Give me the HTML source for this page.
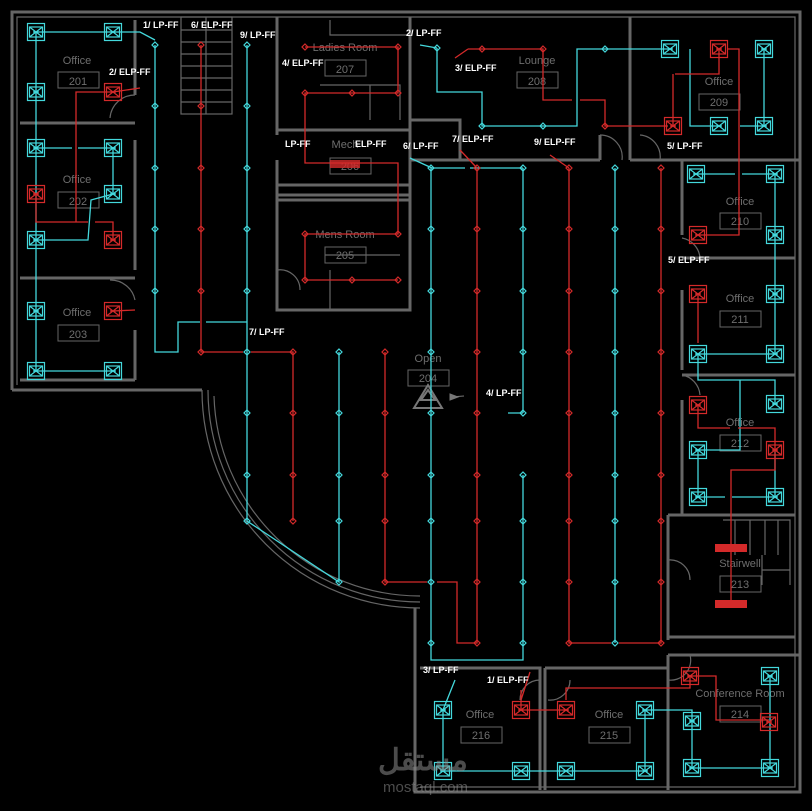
<!DOCTYPE html>
<html><head><meta charset="utf-8"><style>
html,body{margin:0;padding:0;background:#000;}
svg{display:block}
.w{stroke:#666;stroke-width:3;fill:none}
.t{stroke:#666;stroke-width:1.2;fill:none}
.c{stroke:#44d8dc;stroke-width:1.3;fill:none}
.r{stroke:#d42a2a;stroke-width:1.3;fill:none}
.lb{font-family:"Liberation Sans",sans-serif;font-size:9px;font-weight:bold;fill:#fff}
.rn{font-family:"Liberation Sans",sans-serif;font-size:11px;fill:#6e6e6e}
.bx{stroke:#666;stroke-width:1;fill:none}
</style></head><body>
<svg width="812" height="811" viewBox="0 0 812 811" xmlns="http://www.w3.org/2000/svg">
<defs>
<symbol id="fx" overflow="visible"><g fill="none" stroke="currentColor" stroke-width="1.2">
<rect x="-8.5" y="-8.5" width="17" height="17"/><rect x="-6.5" y="-5" width="13" height="10"/>
<path d="M-6.5 -5L6.5 5M-6.5 5L6.5 -5M-3 0h6"/></g></symbol>
<symbol id="nd" overflow="visible"><path d="M0 -3L3 0L0 3L-3 0Z" fill="none" stroke="currentColor" stroke-width="1.2"/></symbol>
</defs>
<rect width="812" height="811" fill="#000"/>
<!-- outer walls -->
<path class="w" d="M12 390 V12 H800 V792 H415 V608"/>
<path class="t" d="M17 385 V17 H795 V787 H420"/>
<path class="w" d="M12 390 H202"/>
<path class="t" d="M202 390 A218 218 0 0 0 420 608"/>
<path class="t" d="M208 390 A212 212 0 0 0 420 602"/>
<path class="t" d="M214 396 A206 206 0 0 0 420 596"/>
<!-- left offices -->
<path class="w" d="M135 20 V95 M135 140 V270 M135 330 V380 M20 123 H135 M20 278 H135 M20 380 H135"/>
<path class="t" d="M110 118 A25 25 0 0 1 135 95 M110 280 A25 25 0 0 1 135 300"/>
<!-- stair -->
<rect class="t" x="181" y="17" width="51" height="97"/>
<path class="t" d="M181 30 H232 M181 42 H232 M181 54 H232 M181 66 H232 M181 78 H232 M181 90 H232 M181 102 H232 M206 17 V114"/>
<!-- center block -->
<path class="w" d="M277 17 V135 M277 160 V310 H410 V17 M277 130 H410 M277 185 H410 M277 195 H410 M277 200 H410"/>
<path class="t" d="M330 20 V35 H410 M320 85 H400 V120 M370 85 V120 M325 255 H400 M330 270 V310 M300 290 A20 20 0 0 0 277 270"/>
<!-- lounge / 209 -->
<path class="w" d="M410 160 H600 M630 160 H800 M630 17 V160 M600 135 V160 M410 120 H460 V160"/>
<path class="t" d="M600 135 A22 22 0 0 1 622 160 M640 135 A22 22 0 0 1 660 160"/>
<!-- right rooms -->
<path class="w" d="M682 160 V235 M682 290 V370 M682 400 V515 M682 258 H795 M682 375 H795 M668 515 H795 M668 515 V640 M668 637 H795 M668 655 V790 M668 655 H800"/>
<path class="t" d="M682 238 A22 22 0 0 1 700 258 M682 375 A22 22 0 0 1 700 395 M668 560 A20 20 0 0 1 690 580 M668 680 A20 20 0 0 0 690 655"/>
<path class="t" d="M723 520 H790 V585 M735 520 V555 M750 520 V555 M765 520 V555 M778 520 V555 M762 555 V585 M790 570 H762"/>
<!-- bottom rooms -->
<path class="w" d="M420 668 H540 V790 M545 668 H668 M545 668 V790 M540 668 V700"/>
<path class="t" d="M520 700 A20 20 0 0 1 540 680 M548 700 A20 20 0 0 0 570 680"/>
<!-- room names -->
<g class="rn" text-anchor="middle">
<text x="77" y="64">Office</text><rect class="bx" x="58" y="72" width="41" height="16"/><text x="78" y="85">201</text>
<text x="77" y="183">Office</text><rect class="bx" x="58" y="192" width="41" height="16"/><text x="78" y="205">202</text>
<text x="77" y="316">Office</text><rect class="bx" x="58" y="325" width="41" height="16"/><text x="78" y="338">203</text>
<text x="345" y="51">Ladies Room</text><rect class="bx" x="325" y="60" width="41" height="16"/><text x="345" y="73">207</text>
<text x="345" y="148">Mech</text><rect class="bx" x="330" y="158" width="41" height="16"/><text x="350" y="170">206</text>
<text x="345" y="238">Mens Room</text><rect class="bx" x="325" y="247" width="41" height="16"/><text x="345" y="259">205</text>
<text x="537" y="64">Lounge</text><rect class="bx" x="517" y="72" width="41" height="16"/><text x="537" y="85">208</text>
<text x="719" y="85">Office</text><rect class="bx" x="699" y="94" width="41" height="16"/><text x="719" y="106">209</text>
<text x="740" y="205">Office</text><rect class="bx" x="720" y="213" width="41" height="16"/><text x="740" y="225">210</text>
<text x="740" y="302">Office</text><rect class="bx" x="720" y="311" width="41" height="16"/><text x="740" y="323">211</text>
<text x="740" y="426">Office</text><rect class="bx" x="720" y="435" width="41" height="16"/><text x="740" y="447">212</text>
<text x="740" y="567">Stairwell</text><rect class="bx" x="720" y="576" width="41" height="16"/><text x="740" y="588">213</text>
<text x="740" y="697">Conference Room</text><rect class="bx" x="720" y="706" width="41" height="16"/><text x="740" y="718">214</text>
<text x="480" y="718">Office</text><rect class="bx" x="461" y="727" width="41" height="16"/><text x="481" y="739">216</text>
<text x="609" y="718">Office</text><rect class="bx" x="589" y="727" width="41" height="16"/><text x="609" y="739">215</text>
<text x="428" y="362">Open</text><rect class="bx" x="408" y="370" width="41" height="16"/><text x="428" y="382">204</text>
</g>
<path d="M428 385 L414 408 H442 Z M421 400 L428 390 L435 400Z" fill="none" stroke="#777" stroke-width="2"/>
<path d="M450 397 L464 396 M450 394 V400 L458 397Z" stroke="#777" fill="#777"/>
<!-- cyan circuits -->
<g class="c">
<path d="M155 45 V352 H178 V322 H200 M206 322 H247"/>
<path d="M247 45 V521 L339 582 V352"/>
<path d="M431 168 V643 V660 H523 V475 M523 413 V168 M523 413 H508"/>
<path d="M615 168 V643"/>
<path d="M431 168 H465 M470 168 H523 M432 168 L410 158"/>
<path d="M36 32 V371 H113 M36 32 H113 M113 32 H140 L155 40"/>
<path d="M36 148 H72 M78 148 H113 V194 M36 240 H88 L91 200 L113 194"/>
<path d="M437 48 V92 H482 V126 H577 V49 H670 M437 48 L420 45"/>
<path d="M690 49 V126 H719 M740 126 H764 V49"/>
<path d="M696 174 H735 M742 174 H775 V354 H698 M775 235 V354"/>
<path d="M698 354 V380 H775 V404 M775 450 V497 M698 450 V497 H725 M732 497 H775 M698 450 H740 V380"/>
<path d="M692 721 V768 H770 V676 M645 710 H692 V721"/>
<path d="M443 710 V771 H645 V710 M566 771 V771"/>
<path d="M443 710 L455 680"/>
</g>
<!-- red circuits -->
<g class="r">
<path d="M201 45 V352 H243 M251 352 H293 V521"/>
<path d="M385 352 V582 H427 M437 582 H457 V643 H477 V168"/>
<path d="M569 168 V643 H611 M619 643 H661 V168"/>
<path d="M477 168 L460 150 M569 168 L550 155"/>
<path d="M305 47 H398 V93 H305 V163 H398 V234 H305 V280 H398"/>
<path d="M113 92 H76 V222 M36 194 V222 H88 M95 222 H113 V240 M113 92 L140 88 M113 311 L135 310"/>
<path d="M468 49 H543 V100 H572 M580 100 H605 V126 H668 M468 49 L455 58"/>
<path d="M719 49 V74 H675 M673 74 V126 M727 49 H739 V235 H698 M698 294 V343"/>
<path d="M698 405 V428 H730 M738 428 H775 V450 V470 H731 V604"/>
<path d="M521 710 H566 M521 710 V690 M566 700 V688 H690 V676 M690 676 H716 V720 H769"/>
<path d="M521 700 L530 672"/>
</g>
<!-- nodes -->
<g style="color:#44d8dc">
<use href="#nd" x="155" y="45"/><use href="#nd" x="155" y="106"/><use href="#nd" x="155" y="168"/><use href="#nd" x="155" y="229"/><use href="#nd" x="155" y="291"/>
<use href="#nd" x="247" y="45"/><use href="#nd" x="247" y="106"/><use href="#nd" x="247" y="168"/><use href="#nd" x="247" y="229"/><use href="#nd" x="247" y="291"/><use href="#nd" x="247" y="352"/><use href="#nd" x="247" y="413"/><use href="#nd" x="247" y="475"/><use href="#nd" x="247" y="521"/>
<use href="#nd" x="339" y="352"/><use href="#nd" x="339" y="413"/><use href="#nd" x="339" y="475"/><use href="#nd" x="339" y="521"/><use href="#nd" x="339" y="582"/>
<use href="#nd" x="431" y="168"/><use href="#nd" x="431" y="229"/><use href="#nd" x="431" y="291"/><use href="#nd" x="431" y="352"/><use href="#nd" x="431" y="413"/><use href="#nd" x="431" y="475"/><use href="#nd" x="431" y="521"/><use href="#nd" x="431" y="582"/><use href="#nd" x="431" y="643"/>
<use href="#nd" x="523" y="168"/><use href="#nd" x="523" y="229"/><use href="#nd" x="523" y="291"/><use href="#nd" x="523" y="352"/><use href="#nd" x="523" y="413"/><use href="#nd" x="523" y="475"/><use href="#nd" x="523" y="521"/><use href="#nd" x="523" y="582"/><use href="#nd" x="523" y="643"/>
<use href="#nd" x="615" y="168"/><use href="#nd" x="615" y="229"/><use href="#nd" x="615" y="291"/><use href="#nd" x="615" y="352"/><use href="#nd" x="615" y="413"/><use href="#nd" x="615" y="475"/><use href="#nd" x="615" y="521"/><use href="#nd" x="615" y="582"/><use href="#nd" x="615" y="643"/>
<use href="#nd" x="437" y="48"/><use href="#nd" x="482" y="126"/><use href="#nd" x="543" y="126"/><use href="#nd" x="605" y="49"/>
</g>
<g style="color:#d42a2a">
<use href="#nd" x="201" y="45"/><use href="#nd" x="201" y="106"/><use href="#nd" x="201" y="168"/><use href="#nd" x="201" y="229"/><use href="#nd" x="201" y="291"/><use href="#nd" x="201" y="352"/>
<use href="#nd" x="293" y="352"/><use href="#nd" x="293" y="413"/><use href="#nd" x="293" y="475"/><use href="#nd" x="293" y="521"/>
<use href="#nd" x="385" y="352"/><use href="#nd" x="385" y="413"/><use href="#nd" x="385" y="475"/><use href="#nd" x="385" y="521"/><use href="#nd" x="385" y="582"/>
<use href="#nd" x="477" y="168"/><use href="#nd" x="477" y="229"/><use href="#nd" x="477" y="291"/><use href="#nd" x="477" y="352"/><use href="#nd" x="477" y="413"/><use href="#nd" x="477" y="475"/><use href="#nd" x="477" y="521"/><use href="#nd" x="477" y="582"/><use href="#nd" x="477" y="643"/>
<use href="#nd" x="569" y="168"/><use href="#nd" x="569" y="229"/><use href="#nd" x="569" y="291"/><use href="#nd" x="569" y="352"/><use href="#nd" x="569" y="413"/><use href="#nd" x="569" y="475"/><use href="#nd" x="569" y="521"/><use href="#nd" x="569" y="582"/><use href="#nd" x="569" y="643"/>
<use href="#nd" x="661" y="168"/><use href="#nd" x="661" y="229"/><use href="#nd" x="661" y="291"/><use href="#nd" x="661" y="352"/><use href="#nd" x="661" y="413"/><use href="#nd" x="661" y="475"/><use href="#nd" x="661" y="521"/><use href="#nd" x="661" y="582"/><use href="#nd" x="661" y="643"/>
<use href="#nd" x="305" y="47"/><use href="#nd" x="398" y="47"/><use href="#nd" x="305" y="93"/><use href="#nd" x="352" y="93"/><use href="#nd" x="398" y="93"/><use href="#nd" x="305" y="234"/><use href="#nd" x="398" y="234"/><use href="#nd" x="305" y="280"/><use href="#nd" x="352" y="280"/><use href="#nd" x="398" y="280"/>
<use href="#nd" x="482" y="49"/><use href="#nd" x="543" y="49"/><use href="#nd" x="605" y="126"/>
</g>
<rect x="330" y="160" width="30" height="8" fill="#d42a2a" opacity="0.8"/>
<!-- fixtures -->
<g style="color:#44d8dc">
<use href="#fx" x="36" y="32"/><use href="#fx" x="113" y="32"/><use href="#fx" x="36" y="92"/><use href="#fx" x="36" y="148"/><use href="#fx" x="113" y="148"/><use href="#fx" x="113" y="194"/><use href="#fx" x="36" y="240"/><use href="#fx" x="36" y="311"/><use href="#fx" x="36" y="371"/><use href="#fx" x="113" y="371"/>
<use href="#fx" x="670" y="49"/><use href="#fx" x="764" y="49"/><use href="#fx" x="719" y="126"/><use href="#fx" x="764" y="126"/>
<use href="#fx" x="696" y="174"/><use href="#fx" x="775" y="174"/><use href="#fx" x="775" y="235"/><use href="#fx" x="775" y="294"/><use href="#fx" x="698" y="354"/><use href="#fx" x="775" y="354"/>
<use href="#fx" x="775" y="404"/><use href="#fx" x="698" y="450"/><use href="#fx" x="698" y="497"/><use href="#fx" x="775" y="497"/>
<use href="#fx" x="770" y="676"/><use href="#fx" x="692" y="721"/><use href="#fx" x="692" y="768"/><use href="#fx" x="770" y="768"/>
<use href="#fx" x="443" y="710"/><use href="#fx" x="443" y="771"/><use href="#fx" x="521" y="771"/><use href="#fx" x="645" y="710"/><use href="#fx" x="566" y="771"/><use href="#fx" x="645" y="771"/>
</g>
<g style="color:#d42a2a">
<use href="#fx" x="113" y="92"/><use href="#fx" x="36" y="194"/><use href="#fx" x="113" y="240"/><use href="#fx" x="113" y="311"/>
<use href="#fx" x="719" y="49"/><use href="#fx" x="673" y="126"/><use href="#fx" x="698" y="235"/><use href="#fx" x="698" y="294"/>
<use href="#fx" x="698" y="405"/><use href="#fx" x="775" y="450"/>
<use href="#fx" x="690" y="676"/><use href="#fx" x="769" y="722"/><use href="#fx" x="521" y="710"/><use href="#fx" x="566" y="710"/>
</g>
<rect x="715" y="544" width="32" height="8" fill="#d42a2a"/><rect x="715" y="600" width="32" height="8" fill="#d42a2a"/>
<!-- labels -->
<g class="lb">
<text x="143" y="28">1/ LP-FF</text><text x="191" y="28">6/ ELP-FF</text><text x="240" y="38">9/ LP-FF</text>
<text x="282" y="66">4/ ELP-FF</text><text x="109" y="75">2/ ELP-FF</text><text x="406" y="36">2/ LP-FF</text>
<text x="455" y="71">3/ ELP-FF</text><text x="285" y="147">LP-FF</text><text x="355" y="147">ELP-FF</text>
<text x="403" y="149">6/ LP-FF</text><text x="452" y="142">7/ ELP-FF</text><text x="534" y="145">9/ ELP-FF</text>
<text x="667" y="149">5/ LP-FF</text><text x="668" y="263">5/ ELP-FF</text><text x="249" y="335">7/ LP-FF</text>
<text x="486" y="396">4/ LP-FF</text><text x="423" y="673">3/ LP-FF</text><text x="487" y="683">1/ ELP-FF</text>
</g>
<g font-family="'Liberation Sans','Noto Sans CJK SC',sans-serif" fill="#8a8a8a" opacity="0.55">
<text x="378" y="770" font-size="30" font-weight="bold">مستقل</text>
<text x="383" y="792" font-size="15">mostaql.com</text>
</g>
</svg>
</body></html>
